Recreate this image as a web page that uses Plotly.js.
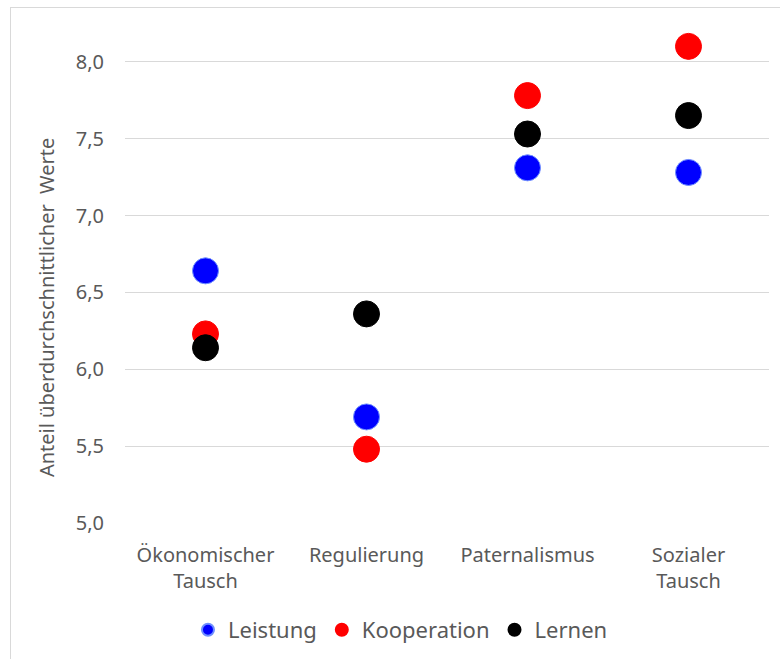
<!DOCTYPE html>
<html>
<head>
<meta charset="utf-8">
<script src="https://cdn.plot.ly/plotly-3.0.1.min.js"></script>
<style>
html,body{margin:0;padding:0;background:#fff;}
#frame{position:absolute;left:10px;top:7px;width:800px;height:700px;border:1.5px solid #d9d9d9;box-sizing:border-box;pointer-events:none;}
#chart{position:absolute;left:0;top:0;width:780px;height:659px;}
</style>
</head>
<body>
<div id="chart"></div>
<div id="frame"></div>
<script>
const categories = ["Ökonomischer<br>Tausch", "Regulierung", "Paternalismus", "Sozialer<br>Tausch"];
const leistung = [6.64, 5.69, 7.31, 7.28];
const kooperation = [6.23, 5.48, 7.78, 8.10];
const lernen = [6.14, 6.36, 7.53, 7.65];
const yTickVals = [5.0, 5.5, 6.0, 6.5, 7.0, 7.5, 8.0];
const yTickText = ["5,0", "5,5", "6,0", "6,5", "7,0", "7,5", "8,0"];
const yTitle = "Anteil überdurchschnittlicher  Werte";

const font = "Noto Sans, Open Sans, sans-serif";
function tr(name, y, color, lineColor) {
  return {
    type: "scatter", mode: "markers", name: name,
    x: categories, y: y,
    marker: {size: 26, color: color, line: {color: lineColor, width: 1}},
    hoverinfo: "x+y"
  };
}
const data = [
  tr("Leistung", leistung, "#0000ff", "#6f8fff"),
  tr("Kooperation", kooperation, "#ff0000", "#ff0000"),
  tr("Lernen", lernen, "#000000", "#000000")
];
const layout = {
  width: 780, height: 659,
  margin: {l: 125, r: 11, t: 31, b: 136},
  paper_bgcolor: "#ffffff", plot_bgcolor: "#ffffff",
  font: {family: font, color: "#595959", size: 20},
  showlegend: true,
  legend: {
    orientation: "h", xref: "container", yref: "container",
    x: 0.241, xanchor: "left", y: 0.044, yanchor: "middle",
    font: {family: font, size: 22, color: "#595959"},
    itemsizing: "constant", traceorder: "normal"
  },
  xaxis: {
    type: "category", range: [-0.5, 3.5], automargin: false,
    showgrid: false, zeroline: false, showline: false, ticks: "",
    ticklabelstandoff: 18,
    tickfont: {family: font, size: 20, color: "#595959"}
  },
  yaxis: {
    range: [5, 8.2], tickvals: yTickVals, ticktext: yTickText, automargin: false,
    showgrid: true, gridcolor: "#d9d9d9", gridwidth: 1,
    zeroline: false, showline: false, ticks: "", ticklen: 0,
    ticklabelstandoff: 20,
    tickfont: {family: font, size: 20, color: "#595959"}
  },
  annotations: [{
    text: yTitle, textangle: -90, showarrow: false,
    xref: "paper", yref: "paper", x: -0.121, y: 0.437,
    xanchor: "center", yanchor: "middle",
    font: {family: font, size: 20, color: "#595959"}
  }]
};
Plotly.newPlot("chart", data, layout, {displayModeBar: false, staticPlot: true});
</script>
</body>
</html>
